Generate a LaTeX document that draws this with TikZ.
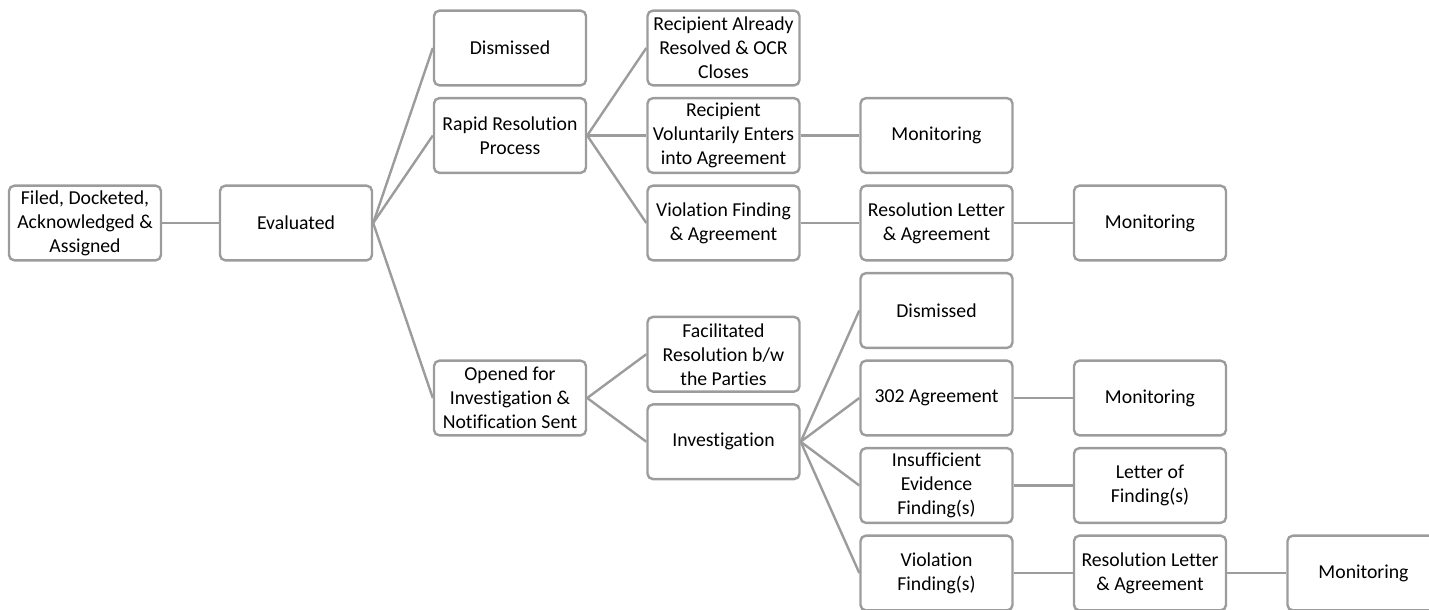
\documentclass[tikz,border=0pt]{standalone}
\usepackage{fontspec}
\setmainfont{Carlito}[Ligatures={NoCommon,NoContextual}]
\definecolor{boxgray}{HTML}{9C9C9C}
\begin{document}
\begin{tikzpicture}[x=0.75pt, y=-0.75pt,
    box/.style={draw=boxgray, line width=1.8pt, rounded corners=4pt,
        minimum width=114pt, minimum height=56pt, inner sep=1pt,
        align=center, font=\fontsize{14.8}{18}\selectfont},
    link/.style={draw=boxgray, line width=1.8pt}]
    \useasboundingbox (0,0) rectangle (1429,610);

    % 1. Nộp hồ sơ và đánh giá
    \node[box] (filed) at (85,223) {Filed, Docketed,\\Acknowledged \&\\Assigned};
    \node[box] (eval) at (296,223) {Evaluated};

    % 2. Ba hướng sau đánh giá
    \node[box] (dism) at (510,48) {Dismissed};
    \node[box] (rapid) at (510,135.5) {Rapid Resolution\\Process};
    \node[box] (opened) at (510,398) {Opened for\\Investigation \&\\Notification Sent};

    % 3. Cột thứ tư
    \node[box] (already) at (723.5,48) {Recipient Already\\Resolved \& OCR\\Closes};
    \node[box] (volunt) at (723.5,135.5) {Recipient\\Voluntarily Enters\\into Agreement};
    \node[box] (violagr) at (723.5,223) {Violation Finding\\\& Agreement};
    \node[box] (facil) at (723.5,354.25) {Facilitated\\Resolution b/w\\the Parties};
    \node[box] (invest) at (723.5,441.75) {Investigation};

    % 4. Cột thứ năm
    \node[box] (monA) at (936.5,135.5) {Monitoring};
    \node[box] (resA) at (936.5,223) {Resolution Letter\\\& Agreement};
    \node[box] (dismB) at (936.5,310.5) {Dismissed};
    \node[box] (agrB) at (936.5,398) {302 Agreement};
    \node[box] (insuff) at (936.5,485.5) {Insufficient\\Evidence\\Finding(s)};
    \node[box] (violB) at (936.5,573) {Violation\\Finding(s)};

    % 5. Cột thứ sáu và bảy
    \node[box] (monB) at (1150,223) {Monitoring};
    \node[box] (monC) at (1150,398) {Monitoring};
    \node[box] (letter) at (1150,485.5) {Letter of\\Finding(s)};
    \node[box] (resB) at (1150,573) {Resolution Letter\\\& Agreement};
    \node[box] (monD) at (1363.5,573) {Monitoring};

    % 6. Các đường nối
    \foreach \a/\b in {filed/eval, eval/dism, eval/rapid, eval/opened,
        rapid/already, rapid/volunt, rapid/violagr, volunt/monA,
        violagr/resA, resA/monB, opened/facil, opened/invest,
        invest/dismB, invest/agrB, invest/insuff, invest/violB,
        agrB/monC, insuff/letter, violB/resB, resB/monD}
        \draw[link] (\a.east) -- (\b.west);
\end{tikzpicture}
\end{document}
